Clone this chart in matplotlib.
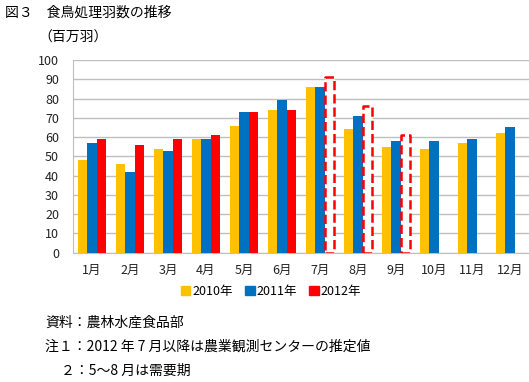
import matplotlib
matplotlib.use("Agg")
import matplotlib.pyplot as plt
import numpy as np
from matplotlib.patches import Patch

plt.rcParams['font.family'] = ['Noto Sans CJK JP', 'DejaVu Sans']

# data (millions of birds)
months = ['1月', '2月', '3月', '4月', '5月', '6月', '7月', '8月', '9月', '10月', '11月', '12月']
y2010 = [48, 46, 54, 59, 66, 74, 86, 64, 55, 54, 57, 62]
y2011 = [57, 42, 53, 59, 73, 79, 86, 71, 58, 58, 59, 65]
y2012 = [59, 56, 59, 61, 73, 74]
est2012 = [91, 76, 61]   # Jul-Sep estimates (dashed boxes)
est_months = [6, 7, 8]
series_labels = ['2010年', '2011年', '2012年']
colors = ['#FFC000', '#0070C0', '#FF0000']

fig = plt.figure(figsize=(5.29, 3.82), dpi=100)
ax = fig.add_axes([73/529, 1 - 252.7/382, 1 - 73/529, (252.7 - 60)/382])

x = np.arange(len(months))
w = 0.24
ax.bar(x - w, y2010, w, color=colors[0], zorder=3)
ax.bar(x, y2011, w, color=colors[1], zorder=3)
ax.bar(x[:len(y2012)] + w, y2012, w, color=colors[2], zorder=3)
ax.bar(np.array(est_months) + w, est2012, w, facecolor='white', edgecolor=colors[2],
       linestyle='--', linewidth=1.8, zorder=3, joinstyle='round')

ax.set_ylim(0, 100)
ax.set_xlim(-0.5, 11.5)
ax.set_yticks(range(0, 101, 10))
ax.set_xticks(x)
ax.set_xticklabels(months)
ax.yaxis.grid(True, color='#BFBFBF', linewidth=1, zorder=0)
for s in ['top', 'right']:
    ax.spines[s].set_visible(False)
ax.spines['left'].set_color('#BFBFBF')
ax.spines['bottom'].set_color('#BFBFBF')
ax.tick_params(axis='both', length=0, labelsize=9, colors='#222222')
ax.tick_params(axis='y', pad=10)
ax.tick_params(axis='x', pad=8)

handles = [Patch(color=c) for c in colors]
fig.legend(handles, series_labels, loc='center', bbox_to_anchor=(271/529, 1 - 291/382),
           ncol=3, frameon=False, fontsize=9, handlelength=0.75, handleheight=0.75,
           handletextpad=0.15, columnspacing=1.0)

fig.text(5/529, 1 - 13/382, '図３　食鳥処理羽数の推移', fontsize=10, va='center')
fig.text(38/529, 1 - 38/382, '（百万羽）', fontsize=10, va='center')
fig.text(45/529, 1 - 323/382, '資料：農林水産食品部', fontsize=10, va='center')
fig.text(45/529, 1 - 347/382, '注１：2012 年 7 月以降は農業観測センターの推定値', fontsize=10, va='center')
fig.text(61/529, 1 - 371/382, '２：5～8 月は需要期', fontsize=10, va='center')

fig.savefig('out.png', dpi=100)
